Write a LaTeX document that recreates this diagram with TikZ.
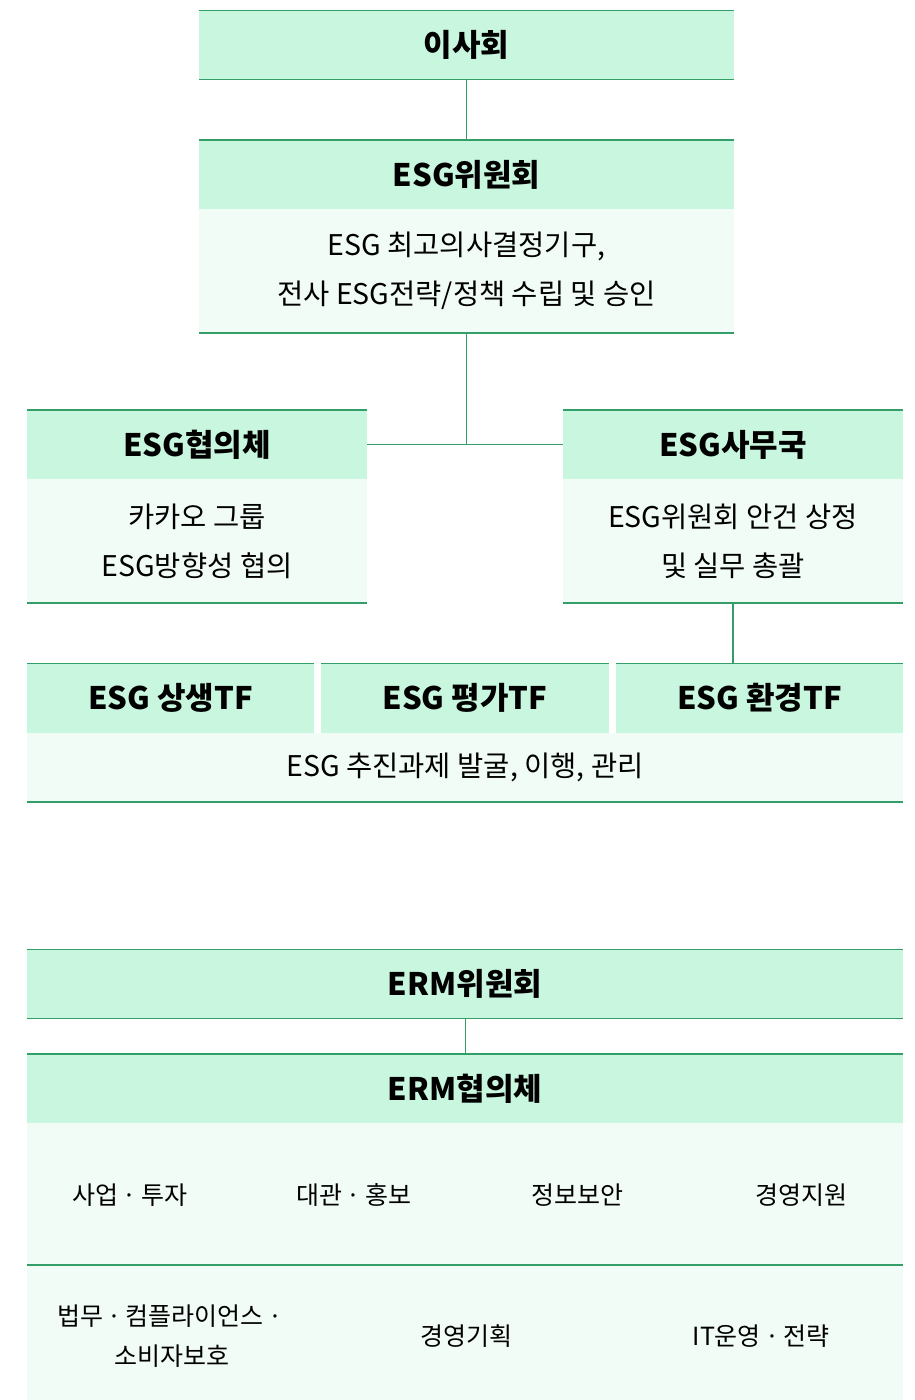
\documentclass[tikz,border=0pt]{standalone}
\usepackage{fontspec}
\setmainfont{Noto Sans CJK KR}
\usetikzlibrary{positioning}
\definecolor{LineGreen}{RGB}{52,158,104}
\definecolor{HeadMint}{RGB}{201,246,222}
\definecolor{BodyMint}{RGB}{242,252,247}
\tikzset{
  headbox/.style={fill=HeadMint,minimum height=69pt,inner sep=0pt,outer sep=0pt,
    align=center,font=\fontsize{31}{36}\selectfont\bfseries},
  bodybox/.style={fill=BodyMint,inner sep=0pt,outer sep=0pt,align=center,
    font=\fontsize{28.5}{49}\selectfont},
  cellbox/.style={inner sep=0pt,align=center,font=\fontsize{25}{40}\selectfont},
  rule/.style={LineGreen,line width=1.6pt},
  link/.style={LineGreen,line width=1.6pt}
}
\newcommand{\mdot}{\,·\,}

\begin{document}
\begin{tikzpicture}[x=1pt,y=-1pt]
  \useasboundingbox (0,0) rectangle (915,1400);
  % ESG governance
  \node[headbox,minimum width=535pt] (board) at (466.5,45) {이사회};
  \node[headbox,minimum width=535pt] (esgc) at (466.5,174.5) {ESG위원회};
  \node[bodybox,minimum width=535pt,minimum height=124pt,below=0pt of esgc] (esgcb)
    {ESG 최고의사결정기구,\\전사 ESG전략/정책 수립 및 승인};
  \node[headbox,minimum width=340pt] (council) at (197,444.5) {ESG협의체};
  \node[bodybox,minimum width=340pt,minimum height=124pt,below=0pt of council] (councilb)
    {카카오 그룹\\ESG방향성 협의};
  \node[headbox,minimum width=340pt] (office) at (733,444.5) {ESG사무국};
  \node[bodybox,minimum width=340pt,minimum height=124pt,below=0pt of office] (officeb)
    {ESG위원회 안건 상정\\및 실무 총괄};
  \node[headbox,minimum width=287pt] (tfwin) at (170.5,698) {ESG 상생TF};
  \node[headbox,minimum width=288pt] (tfeval) at (465,698) {ESG 평가TF};
  \node[headbox,minimum width=287pt] (tfenv) at (759.5,698) {ESG 환경TF};
  \node[bodybox,minimum width=876pt,minimum height=69pt] (tfb) at (465,767.5)
    {ESG 추진과제 발굴, 이행, 관리};

  \foreach \n in {board,esgc,council,office,tfwin,tfeval,tfenv}
    \draw[rule] (\n.north west) -- (\n.north east);
  \draw[rule] (board.south west) -- (board.south east);
  \foreach \n in {esgcb,councilb,officeb,tfb}
    \draw[rule] (\n.south west) -- (\n.south east);

  \draw[link] (board.south) -- (esgc.north);
  \draw[link] (esgcb.south) -- (esgcb.south |- council.east);
  \draw[link] (council.east) -- (office.west);
  \draw[link] (officeb.south) -- (officeb.south |- tfenv.north);

  % ERM
  \node[headbox,minimum width=876pt] (ermc) at (465,984) {ERM위원회};
  \node[headbox,minimum width=876pt] (ermw) at (465,1088.5) {ERM협의체};
  \node[bodybox,minimum width=876pt,minimum height=277pt,below=0pt of ermw] (ermb) {};
  \coordinate (rowsplit) at (465,1265);
  \draw[rule] (ermc.north west) -- (ermc.north east);
  \draw[rule] (ermc.south west) -- (ermc.south east);
  \draw[rule] (ermw.north west) -- (ermw.north east);
  \draw[rule] (ermb.west |- rowsplit) -- (ermb.east |- rowsplit);
  \draw[LineGreen,line width=1pt] (ermc.south) -- (ermw.north);

  \node[cellbox] (invest) at (130,1195) {사업\mdot 투자};
  \node[cellbox] (pr) at (354,1195) {대관\mdot 홍보};
  \node[cellbox] (infosec) at (577,1195) {정보보안};
  \node[cellbox] (support) at (801,1195) {경영지원};
  \node[cellbox] (legal) at (172,1336) {법무\mdot 컴플라이언스\mdot\\소비자보호};
  \node[cellbox] (planning) at (466,1336) {경영기획};
  \node[cellbox] (itops) at (761,1336) {IT운영\mdot 전략};
\end{tikzpicture}
\end{document}
